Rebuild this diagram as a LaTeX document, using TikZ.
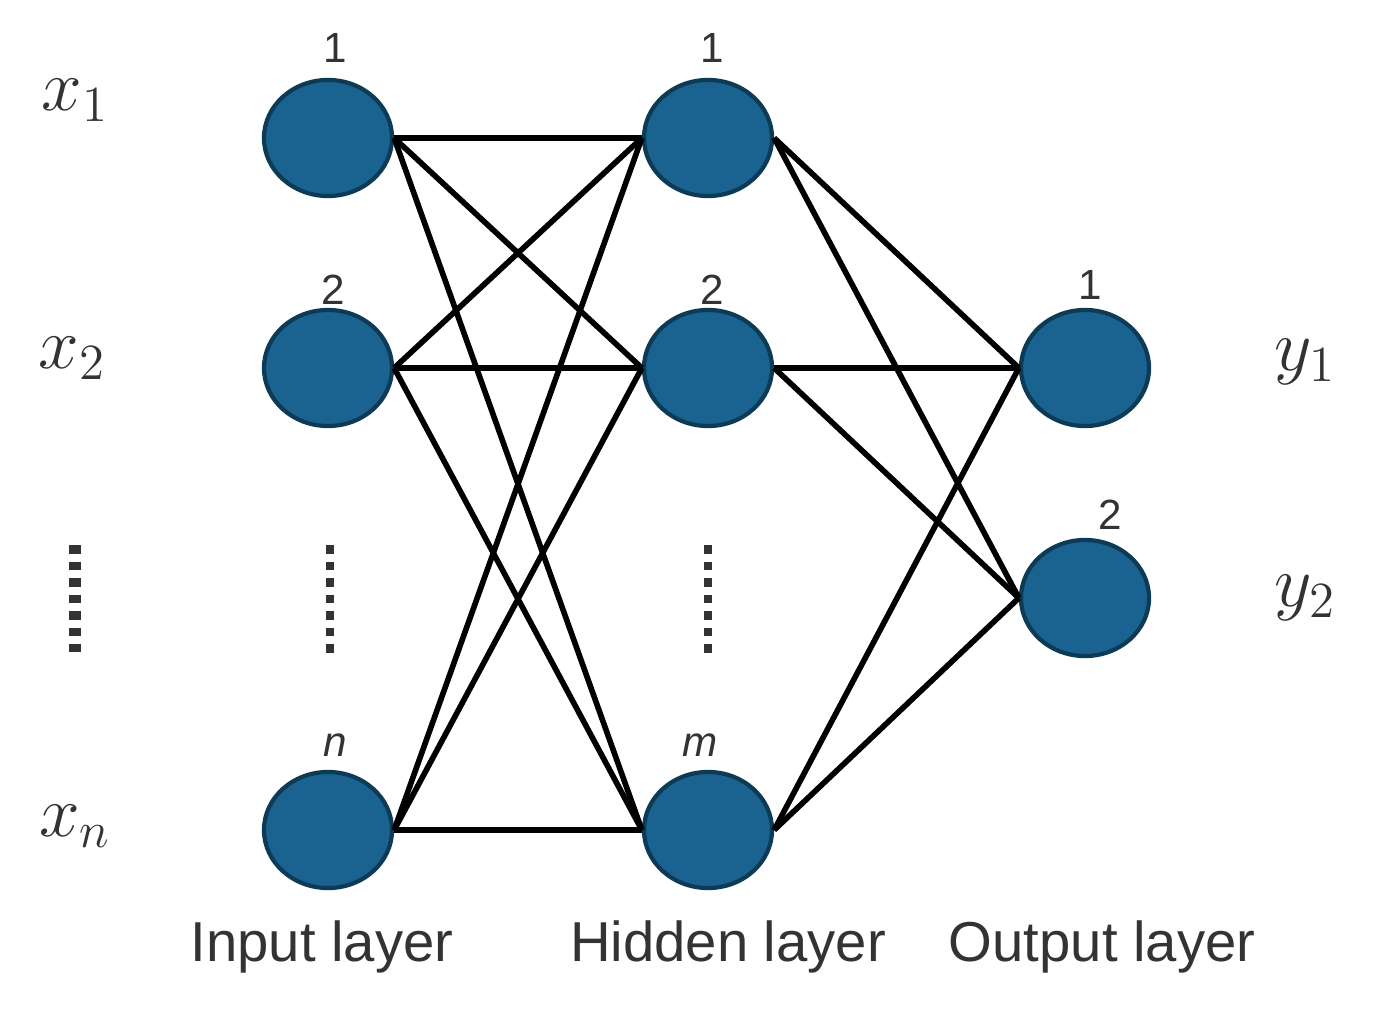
\documentclass[tikz,border=0pt]{standalone}
\usepackage{fontspec}
\setsansfont{Liberation Sans}
\usetikzlibrary{shapes.geometric}
\definecolor{nodeblue}{HTML}{1A6390}
\definecolor{nodeedge}{HTML}{0D3A55}
\definecolor{txtgray}{HTML}{333333}

\begin{document}
\begin{tikzpicture}[x=0.01cm, y=-0.01cm,
    neuron/.style={ellipse, draw=nodeedge, line width=1.2pt, fill=nodeblue, minimum width=1.28cm, minimum height=1.16cm, inner sep=0pt},
    idx/.style={font=\sffamily\fontsize{12}{14}\selectfont, text=txtgray, inner sep=0pt},
    var/.style={font=\fontsize{21}{25}\selectfont, text=txtgray, inner sep=0pt},
    layer/.style={font=\sffamily\fontsize{16}{19}\selectfont, text=txtgray, inner sep=0pt},
    link/.style={line width=1.6pt, black},
    vdots/.style={line width=3.5pt, dash pattern=on 2.5pt off 2.2pt, txtgray}]
    \useasboundingbox (0,0) rectangle (1380,1013);

    % input layer
    \node[neuron] (i1) at (328,138) {};
    \node[neuron] (i2) at (328,368) {};
    \node[neuron] (in) at (328,830) {};
    % hidden layer
    \node[neuron] (h1) at (708,138) {};
    \node[neuron] (h2) at (708,368) {};
    \node[neuron] (hm) at (708,830) {};
    % output layer
    \node[neuron] (o1) at (1085,368) {};
    \node[neuron] (o2) at (1085,598) {};

    \foreach \a in {i1, i2, in} {
        \foreach \b in {h1, h2, hm} {
            \draw[link] (\a.east) -- (\b.west);
        }
    }
    \foreach \a in {h1, h2, hm} {
        \foreach \b in {o1, o2} {
            \draw[link] (\a.east) -- (\b.west);
        }
    }

    % indices
    \node[idx] (ti1) at (335,48) {1};
    \node[idx] (ti2) at (333,290) {2};
    \node[idx] (tin) at (335,745) {\itshape n};
    \node[idx] (th1) at (712,48) {1};
    \node[idx] (th2) at (712,290) {2};
    \node[idx] (thm) at (700,745) {\itshape m};
    \node[idx] (to1) at (1090,285) {1};
    \node[idx] (to2) at (1110,515) {2};

    % inputs and outputs
    \node[var] (x1) at (75,100) {$x_1$};
    \node[var] (x2) at (72,358) {$x_2$};
    \node[var] (xn) at (75,826) {$x_n$};
    \node[var] (y1) at (1305,362) {$y_1$};
    \node[var] (y2) at (1305,598) {$y_2$};

    % dots
    \coordinate (d1a) at (75,545);
    \coordinate (d1b) at (75,652);
    \coordinate (d2a) at (330,545);
    \coordinate (d2b) at (330,655);
    \coordinate (d3a) at (708,545);
    \coordinate (d3b) at (708,655);
    \draw[vdots] (d1a) -- (d1b);
    \draw[vdots, line width=2.5pt] (d2a) -- (d2b);
    \draw[vdots, line width=2.5pt] (d3a) -- (d3b);

    % layer names
    \node[layer] (li) at (322,947) {Input layer};
    \node[layer] (lh) at (728,947) {Hidden layer};
    \node[layer] (lo) at (1102,947) {Output layer};
\end{tikzpicture}
\end{document}
